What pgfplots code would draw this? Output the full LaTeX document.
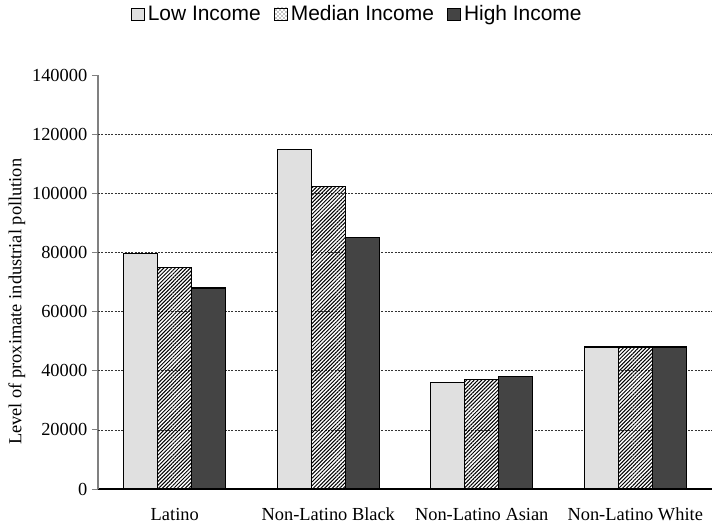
\documentclass[border=0pt]{standalone}
\usepackage{fontspec}
\setmainfont{Liberation Serif}
\newfontfamily\arialf{Liberation Sans}
\usepackage{pgfplots}
\pgfplotsset{compat=1.18}
\usetikzlibrary{patterns,patterns.meta}
\definecolor{lowc}{RGB}{224,224,224}
\definecolor{highc}{RGB}{68,68,68}
\begin{document}
\begin{tikzpicture}
\begin{axis}[
  scale only axis,
  width=460.5pt, height=310.5pt,
  ybar=0pt, bar width=25.5pt,
  xmin=-0.5, xmax=3.5,
  ymin=0, ymax=140000,
  axis x line*=bottom,
  axis y line*=left,
  x axis line style={-,black,line width=0.8pt},
  y axis line style={-,gray,line width=0.8pt},
  xtick={0,1,2,3},
  xticklabels={Latino,Non-Latino Black,Non-Latino Asian,Non-Latino White},
  major x tick style={draw=none},
  extra x ticks={-0.5,0.5,1.5,2.5,3.5},
  extra x tick labels={},
  extra x tick style={tick style={draw=black,line width=0.6pt}, major tick length=5pt, tick align=outside},
  ytick={0,20000,...,140000},
  tick align=outside,
  major tick length=4.5pt,
  y tick style={gray,line width=0.6pt},
  extra y ticks={20000,40000,...,120000},
  extra y tick labels={},
  extra y tick style={ymajorgrids=true, major tick length=0pt},
  major grid style={black!80, line width=0.5pt, dash pattern=on 1.5pt off 1pt},
  /pgf/number format/fixed,
  /pgf/number format/precision=0,
  /pgf/number format/assume math mode=true,
  /pgf/number format/set thousands separator={},
  scaled y ticks=false,
  tick label style={font=\fontsize{13.8}{16}\selectfont},
  xticklabel style={yshift=-6pt, text height=9.5pt, text depth=2.5pt},
  ylabel={Level of proximate industrial pollution},
  ylabel style={font=\fontsize{13.8}{16}\selectfont, at={(axis description cs:-0.132,0.452)}, anchor=center},
  legend columns=3,
  legend style={at={(0.4218,1.147)}, anchor=center, draw=none, fill=none,
    font=\arialf\fontsize{15.7}{18}\selectfont,
    nodes={inner sep=1pt},
    /tikz/every even column/.append style={column sep=9pt},
    /tikz/every odd column/.append style={column sep=1.5pt}},
  legend image code/.code={\draw[#1, line width=0.6pt] (0pt,-4.6pt) rectangle (9.5pt,4.6pt);},
  every axis plot/.append style={draw=black, line width=1pt},
]
\addplot[fill=lowc] coordinates {(0,79700) (1,114700) (2,36000) (3,48000)};
\addplot[pattern={Lines[angle=45, distance=2pt, line width=0.75pt]},
  legend image code/.code={\draw[black, line width=0.6pt, pattern=crosshatch dots] (0pt,-4.6pt) rectangle (9.5pt,4.6pt);}]
  coordinates {(0,75000) (1,102300) (2,37000) (3,48000)};
\addplot[fill=highc] coordinates {(0,68000) (1,85000) (2,38000) (3,48000)};
\legend{Low Income, Median Income, High Income}
\end{axis}
\pgfresetboundingbox
\path[use as bounding box] (-73.5pt,-30.75pt) rectangle (462pt,366.75pt);
\end{tikzpicture}
\end{document}
